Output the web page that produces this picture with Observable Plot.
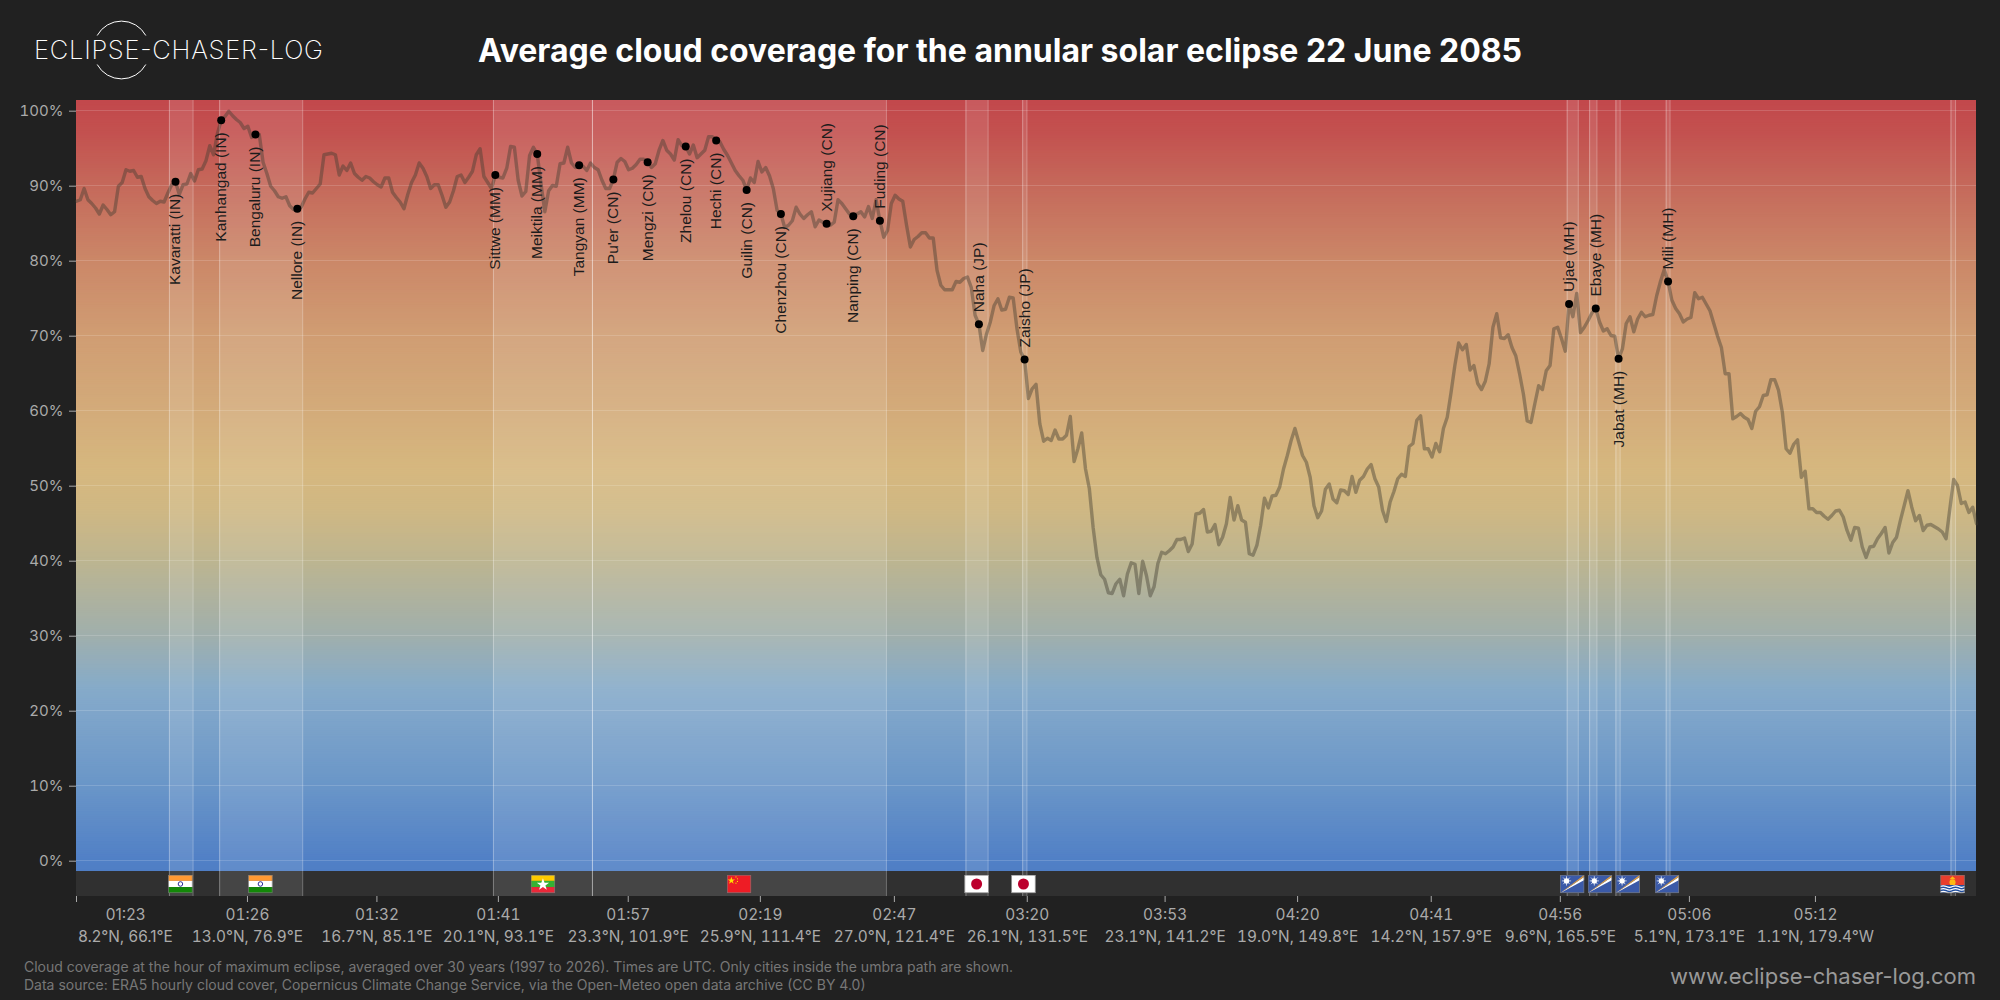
<!DOCTYPE html>
<html>
<head>
<meta charset="utf-8">
<script src="https://cdn.jsdelivr.net/npm/d3@7"></script>
<script src="https://cdn.jsdelivr.net/npm/@observablehq/plot@0.6"></script>
<style>
html,body{margin:0;padding:0;background:#212121;width:2000px;height:1000px;overflow:hidden;font-family:Inter,sans-serif}
#header{position:relative;height:100px}
#logo{position:absolute;left:0;top:0}
#title{position:absolute;left:0;right:0;top:29px;text-align:center;color:#fff;font:700 32px/44px Inter,sans-serif}
#chart svg{display:block}
#caption{position:absolute;left:24px;top:958px;color:#777;font:400 14px/18px Inter,sans-serif}
#site{position:absolute;right:24px;top:961px;color:#999;font:400 22px/30px Inter,sans-serif}
</style>
</head>
<body>
<div id="header">
<svg id="logo" width="400" height="100">
<path d="M97.2 35.5A27.7 27.7 0 0 1 145.8 35.5" fill="none" stroke="#fff" stroke-width="1"/>
<path d="M97.2 64.5A27.7 27.7 0 0 0 145.8 64.5" fill="none" stroke="#fff" stroke-width="1"/>
<text x="34" y="59" fill="#fff" font-family="Inter" font-weight="200" font-size="25.5" textLength="289" lengthAdjust="spacing">ECLIPSE-CHASER-LOG</text>
</svg>
<div id="title">Average cloud coverage for the annular solar eclipse 22 June 2085</div>
</div>
<div id="chart"></div>
<div id="caption">Cloud coverage at the hour of maximum eclipse, averaged over 30 years (1997 to 2026). Times are UTC. Only cities inside the umbra path are shown.<br>Data source: ERA5 hourly cloud cover, Copernicus Climate Change Service, via the Open-Meteo open data archive (CC BY 4.0)</div>
<div id="site">www.eclipse-chaser-log.com</div>
<script>
const cloudCover = [
87.9,88.1,89.6,88.1,87.6,87.0,86.2,87.4,86.8,86.1,
86.5,89.9,90.4,92.1,91.9,92.0,91.1,91.2,89.6,88.5,
88.0,87.6,87.9,87.8,89.0,90.1,90.5,88.8,90.1,90.2,
91.6,90.6,92.1,92.2,93.3,95.3,94.1,96.9,98.7,99.2,
99.9,99.3,98.8,98.4,97.6,97.9,96.4,96.8,96.8,93.1,
91.6,89.9,89.3,88.5,88.3,88.5,87.3,86.8,86.9,87.1,
88.2,89.1,89.0,89.6,90.2,94.1,94.2,94.3,94.1,91.4,
92.6,92.0,93.0,91.6,91.1,90.7,91.2,91.0,90.5,90.1,
89.8,91.0,91.0,89.1,88.4,87.8,86.9,88.8,90.4,91.4,
93.0,92.3,91.2,89.6,90.1,90.1,88.7,87.1,87.8,89.3,
91.2,91.4,90.4,91.1,91.9,94.1,94.9,91.2,90.4,89.6,
91.4,91.1,91.0,92.3,95.2,95.1,90.7,88.6,89.2,94.0,
95.1,94.2,90.2,86.5,89.3,90.0,89.9,92.9,93.0,95.1,
93.0,92.4,92.7,92.6,92.0,93.0,92.4,92.1,90.7,89.6,
89.6,90.8,93.1,93.6,93.2,92.1,92.3,92.8,93.5,93.5,
93.1,92.4,92.9,94.7,96.0,94.7,94.2,93.4,96.1,95.3,
95.2,94.2,95.4,93.7,94.2,94.7,96.5,96.5,96.0,95.8,
94.8,94.0,93.0,92.0,91.3,90.7,89.4,91.0,90.4,93.2,
91.8,92.4,91.3,89.6,86.7,86.2,84.4,84.7,85.3,87.1,
86.2,85.6,86.1,86.5,84.5,85.4,85.1,84.9,84.7,85.1,
88.1,87.6,86.9,86.2,85.9,86.2,86.5,85.8,87.2,85.6,
88.1,85.3,83.1,84.0,87.6,88.7,88.2,87.9,84.7,81.8,
82.8,83.2,83.7,83.7,83.0,83.0,78.7,76.7,76.1,76.1,
76.1,77.2,77.1,77.6,77.8,76.4,72.7,71.5,68.0,70.2,
71.8,74.0,74.9,73.4,73.5,75.1,75.0,70.9,67.8,66.8,
61.6,62.9,63.5,58.2,55.9,56.3,56.0,57.4,56.2,56.2,
56.7,59.2,53.2,54.9,57.0,52.2,49.6,44.4,40.4,38.1,
37.5,35.7,35.6,36.9,37.5,35.3,38.2,39.7,39.5,35.6,
39.9,38.0,35.3,36.5,39.6,41.1,40.9,41.3,41.8,42.8,
42.8,43.0,41.2,42.2,46.2,46.3,46.8,43.8,43.9,44.8,
42.1,43.1,44.9,48.4,45.4,47.3,45.4,45.1,40.9,40.7,
42.0,44.7,48.3,47.0,48.6,48.7,49.8,52.2,54.0,56.0,
57.6,55.8,54.0,53.1,51.1,47.3,45.7,46.6,49.5,50.2,
48.2,47.7,49.4,49.3,48.8,51.2,49.1,50.7,51.2,52.2,
52.8,50.9,49.8,46.7,45.2,47.8,49.2,50.9,51.5,51.2,
55.2,55.6,58.7,59.3,54.9,54.9,53.8,55.6,54.5,57.6,
59.1,62.4,66.0,69.0,68.1,68.8,65.4,66.0,63.6,62.8,
63.9,66.2,71.1,72.9,69.7,69.6,70.1,68.4,67.3,64.9,
62.2,58.6,58.4,60.9,63.3,62.8,65.3,66.0,70.9,71.1,
69.6,67.9,74.2,72.5,75.6,70.4,71.1,72.0,73.0,73.6,
71.8,70.6,70.9,70.0,69.9,66.9,68.2,71.6,72.5,70.5,
72.2,73.1,72.5,72.7,72.8,75.3,77.2,78.8,77.2,74.7,
73.6,72.9,71.8,72.2,72.4,75.7,74.9,75.1,74.2,73.3,
71.6,69.9,68.4,64.9,64.9,58.9,59.2,59.6,59.1,58.8,
57.6,59.9,60.5,62.0,62.1,64.1,64.1,62.7,59.8,54.9,
54.3,55.5,56.1,51.1,51.9,46.9,46.9,46.4,46.4,45.9,
45.5,46.0,46.6,46.7,45.8,44.0,42.7,44.4,44.3,41.8,
40.4,41.8,41.9,42.9,43.6,44.4,41.0,42.4,43.1,45.3,
47.3,49.3,47.1,45.3,46.0,44.0,44.7,44.8,44.5,44.2,
43.8,42.9,46.9,50.8,50.0,47.6,47.8,46.4,47.1,44.9];

const cityNames = ["Kavaratti (IN)","Kanhangad (IN)","Bengaluru (IN)","Nellore (IN)","Sittwe (MM)","Meiktila (MM)","Tangyan (MM)","Pu'er (CN)","Mengzi (CN)","Zhelou (CN)","Hechi (CN)","Guilin (CN)","Chenzhou (CN)","Xujiang (CN)","Nanping (CN)","Fuding (CN)","Naha (JP)","Zaisho (JP)","Ujae (MH)","Ebaye (MH)","Jabat (MH)","Mili (MH)"];
const cityIndex = [26,38,47,58,110,121,132,141,150,160,168,176,185,197,204,211,237,249,392,399,405,418];
const cityCloud = [90.5,98.7,96.8,86.9,91.4,94.2,92.7,90.8,93.1,95.2,96.0,89.4,86.2,84.9,85.9,85.3,71.5,66.8,74.2,73.6,66.9,77.2];
const labelAbove = ["Xujiang (CN)","Fuding (CN)","Naha (JP)","Zaisho (JP)","Ujae (MH)","Ebaye (MH)","Mili (MH)"];

const tickIndex = [0,44.9,78.9,110.8,144.9,179.6,214.8,249.7,285.9,320.7,355.8,389.7,423.6,456.7];
const tickTimes = ["01:23","01:26","01:32","01:41","01:57","02:19","02:47","03:20","03:53","04:20","04:41","04:56","05:06","05:12"];
const tickCoords = ["8.2°N, 66.1°E","13.0°N, 76.9°E","16.7°N, 85.1°E","20.1°N, 93.1°E","23.3°N, 101.9°E","25.9°N, 111.4°E","27.0°N, 121.4°E","26.1°N, 131.5°E","23.1°N, 141.2°E","19.0°N, 149.8°E","14.2°N, 157.9°E","9.6°N, 165.5°E","5.1°N, 173.1°E","1.1°N, 179.4°W"];

const spanStart = [24.4,37.6,109.5,135.5,233.6,248.5,391.5,397.4,404.3,417.5,492.3];
const spanEnd   = [30.6,59.4,135.5,212.7,239.4,249.6,394.4,399.3,405.4,418.5,493.5];

const flagIndex = [27.3,48.3,122.5,174,236.4,248.7,392.8,400.1,407.4,417.7,492.7];
const flagCodes = ["IN","IN","MM","CN","JP","JP","MH","MH","MH","MH","KI"];
const flagArt = {
IN:'<rect width="24" height="6" fill="#FF9933"/><rect y="6" width="24" height="6" fill="#fff"/><rect y="12" width="24" height="6" fill="#138808"/><circle cx="12" cy="9" r="2.2" fill="none" stroke="#000080" stroke-width=".8"/>',
MM:'<rect width="24" height="6" fill="#FECB00"/><rect y="6" width="24" height="6" fill="#34B233"/><rect y="12" width="24" height="6" fill="#EA2839"/><path d="M12 3.5l1.6 4.2h4.4l-3.6 2.7 1.4 4.3-3.8-2.7-3.8 2.7 1.4-4.3-3.6-2.7h4.4z" fill="#fff"/>',
CN:'<rect width="24" height="18" fill="#EE1C25"/><path d="M4.5 2l.9 2.6h2.7l-2.2 1.6.8 2.6-2.2-1.6-2.2 1.6.8-2.6-2.2-1.6h2.7z" fill="#FFDE00"/><circle cx="9" cy="2.2" r=".6" fill="#FFDE00"/><circle cx="10.5" cy="4" r=".6" fill="#FFDE00"/><circle cx="10.5" cy="6.5" r=".6" fill="#FFDE00"/><circle cx="9" cy="8.2" r=".6" fill="#FFDE00"/>',
JP:'<rect width="24" height="18" fill="#fff"/><circle cx="12" cy="9" r="5.4" fill="#BC002D"/>',
MH:'<rect width="24" height="18" fill="#3B5AA8"/><path d="M0 18L24 2v3.2z" fill="#fff"/><path d="M0 18L24 0v2z" fill="#DD9D3F"/><circle cx="6.5" cy="6" r="2.6" fill="#fff"/><path d="M6.5 1.5v9M2 6h9M3.3 2.8l6.4 6.4M3.3 9.2l6.4-6.4" stroke="#fff" stroke-width=".7"/>',
KI:'<rect width="24" height="10" fill="#E73E2D"/><circle cx="12" cy="7.5" r="3" fill="#FDB913"/><path d="M12 1.5l3 2.8h-6z" fill="#FDB913"/><rect y="10" width="24" height="8" fill="#214E9E"/><path d="M0 11.5q3-1.5 6 0t6 0 6 0 6 0M0 14.2q3-1.5 6 0t6 0 6 0 6 0M0 16.9q3-1.5 6 0t6 0 6 0 6 0" fill="none" stroke="#fff" stroke-width="1.2"/>'
};
const flagUri = c => "data:image/svg+xml," + encodeURIComponent(`<svg xmlns="http://www.w3.org/2000/svg" viewBox="0 0 24 18" preserveAspectRatio="none">${flagArt[c]}<rect x=".4" y=".4" width="23.2" height="17.2" fill="none" stroke="#777" stroke-width=".8"/></svg>`);

const gradPct = [-1.47,0,10,20,23,30,40,47,52,60,70,80,90,97,101.33];
const gradColors = ["#4f7ec5","#5180c6","#6a96c8","#80a6ca","#86abc9","#a0afac","#bdb590","#d0b883","#d6b87f","#d3ab7a","#d09d73","#cb8768","#c5695b","#c3514f","#c2484c"];
const gradScale = d3.scaleLinear().domain(gradPct).range(gradColors).interpolate(d3.interpolateRgb);
const gradLevels = d3.range(-1.47, 101.33, 0.25);

const VIEW_BOTTOM = -4.8, PLOT_BOTTOM = -1.47, VIEW_TOP = 101.33;
const series = cloudCover.map((v,i)=>({i,v}));
const cities = cityNames.map((name,k)=>({name,i:cityIndex[k],v:cityCloud[k]}));
const spans = spanStart.map((a,k)=>({a,b:spanEnd[k]}));
const spanEdges = spanStart.concat(spanEnd);
const flags = flagIndex.map((i,k)=>({i,c:flagCodes[k]}));
const tickLabel = i => { const k = tickIndex.indexOf(i); return tickTimes[k] + "\n" + tickCoords[k]; };
const isAbove = d => labelAbove.includes(d.name);

const chart = Plot.plot({
  width:2000, height:845, marginTop:0, marginBottom:49, marginLeft:76, marginRight:24,
  style:{background:"transparent", color:"#aaa", fontFamily:"Inter, sans-serif", fontSize:"16px", overflow:"visible"},
  x:{domain:[0,499]},
  y:{domain:[VIEW_BOTTOM,VIEW_TOP]},
  marks:[
    Plot.rect([0],{x1:0,x2:499,y1:VIEW_BOTTOM,y2:PLOT_BOTTOM,fill:"#303030"}),
    Plot.rect(gradLevels,{x1:0,x2:499,y1:d=>d,y2:d=>Math.min(d+0.4,VIEW_TOP),fill:d=>gradScale(d+0.125)}),
    Plot.rect(spans,{x1:"a",x2:"b",y1:VIEW_BOTTOM,y2:VIEW_TOP,fill:"#fff",fillOpacity:0.1}),
    Plot.ruleX(spanEdges,{y1:VIEW_BOTTOM,y2:VIEW_TOP,stroke:"#fff",strokeOpacity:0.32,strokeWidth:1}),
    Plot.ruleY(d3.range(0,101,10),{x1:0,x2:499,stroke:"#fff",strokeOpacity:0.16,strokeWidth:1}),
    Plot.line(series,{x:"i",y:"v",stroke:"rgb(66,60,48)",strokeOpacity:0.43,strokeWidth:3.4,curve:"linear"}),
    Plot.dot(cities,{x:"i",y:"v",r:4,fill:"#000"}),
    Plot.text(cities.filter(d=>!isAbove(d)),{x:"i",y:"v",text:"name",rotate:-90,textAnchor:"end",dy:12,fill:"#1c1c1c",fontFamily:"Liberation Sans",fontSize:15.5}),
    Plot.text(cities.filter(isAbove),{x:"i",y:"v",text:"name",rotate:-90,textAnchor:"start",dy:-12,fill:"#1c1c1c",fontFamily:"Liberation Sans",fontSize:15.5}),
    Plot.image(flags,{x:"i",y:()=>-3.13,src:d=>flagUri(d.c),width:24.5,height:18.5}),
    Plot.axisY(d3.range(0,101,10),{tickFormat:d=>d+"%",tickSize:7,tickPadding:6,label:null,stroke:"#aaa",fill:"#aaa",fontSize:15,dy:0.7}),
    Plot.axisX(tickIndex.slice(1),{tickFormat:tickLabel,tickSize:6,tickPadding:3,label:null,stroke:"#aaa",fill:"#aaa",fontSize:15.4,lineHeight:1.37}),
    Plot.axisX([0],{tickFormat:()=>"",tickSize:6,label:null,stroke:"#aaa"}),
    Plot.text([0],{x:d=>d,frameAnchor:"bottom",lineAnchor:"top",dy:9,dx:49,text:tickLabel,fill:"#aaa",fontSize:15.4,lineHeight:1.37})
  ]
});
document.getElementById("chart").appendChild(chart);
</script>
</body>
</html>
